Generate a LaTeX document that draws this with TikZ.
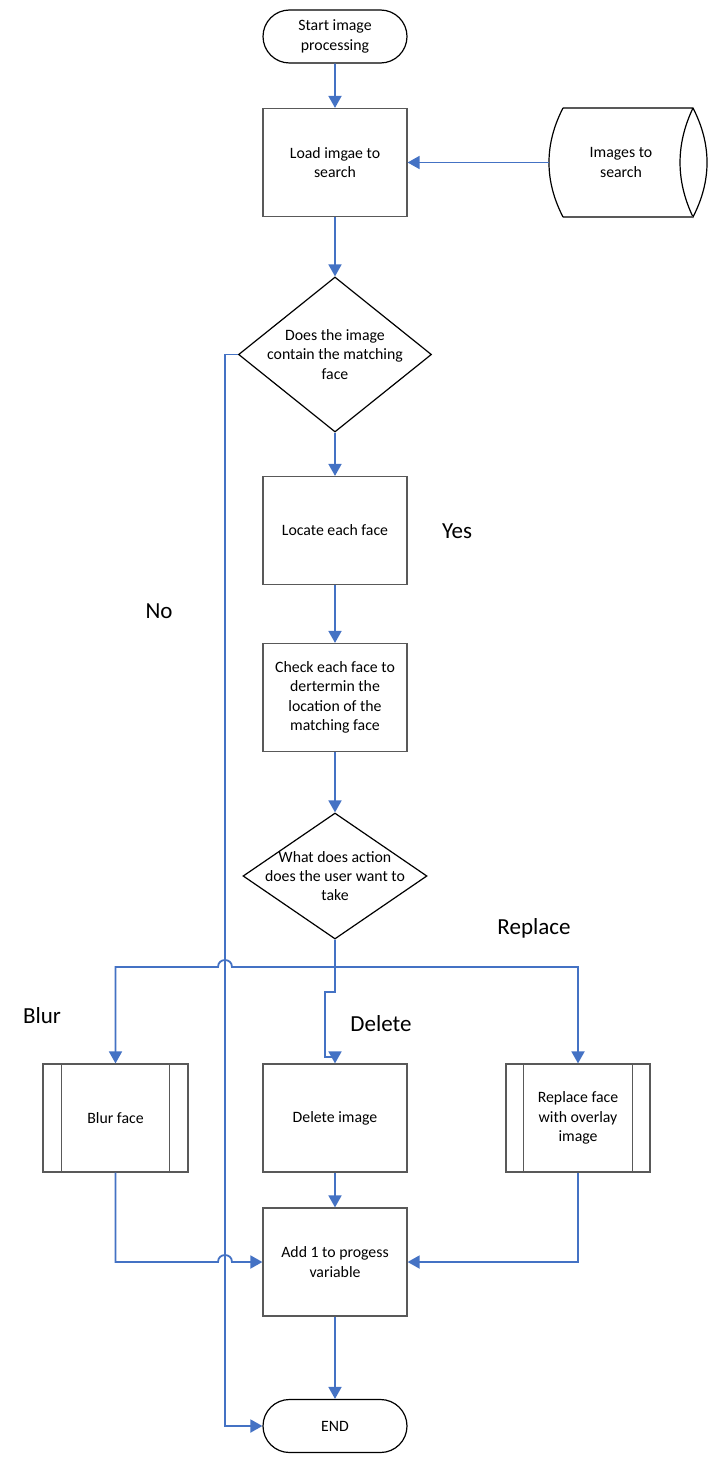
\documentclass[tikz,border=0pt]{standalone}
\usepackage{fontspec}
\setmainfont{Carlito}
\usetikzlibrary{arrows.meta,shapes.geometric,shapes.misc}
\definecolor{conncol}{HTML}{4472C4}
\definecolor{bordcol}{HTML}{595959}
\begin{document}
\begin{tikzpicture}[x=1pt,y=-1pt,
  txt/.style={font=\fontsize{15.8}{19.3}\selectfont, align=center, inner sep=0pt},
  biglabel/.style={font=\fontsize{23}{27}\selectfont, inner sep=0pt},
  proc/.style={txt, draw=bordcol, line width=1.2pt, minimum width=144pt, minimum height=108pt},
  term/.style={txt, draw=black, line width=1.2pt, rounded rectangle, minimum width=144pt, minimum height=53pt},
  dec/.style={draw=black, line width=1.2pt, diamond, inner sep=0pt},
  arr/.style={draw=conncol, line width=1.8pt, -{Triangle[length=12pt,width=13pt]}},
  ln/.style={draw=conncol, line width=1.8pt},
  sub/.style={draw=bordcol, line width=1.2pt}]
\useasboundingbox (0,0) rectangle (717,1466);

% nodes
\node[term] (start) at (335,36.5) {Start image\\processing};
\node[proc] (load) at (335,162.5) {Load imgae to\\search};
\node[dec, minimum width=193pt, minimum height=155pt] (d1) at (335,354.5) {};
\node[txt] (d1t) at (335,354.5) {Does the image\\contain the matching\\face};
\node[proc] (locate) at (335,530.5) {Locate each face};
\node[proc] (check) at (335,697.5) {Check each face to\\dertermin the\\location of the\\matching face};
\node[dec, minimum width=184pt, minimum height=126pt] (d2) at (335,876) {};
\node[txt] (d2t) at (335,876) {What does action\\does the user want to\\take};
\node[proc, minimum width=145pt] (blur) at (115.5,1118) {Blur face};
\node[proc] (del) at (335,1118) {Delete image};
\node[proc] (rep) at (578,1118) {Replace face\\with overlay\\image};
\node[proc] (add) at (335,1262) {Add 1 to progess\\variable};
\node[term] (endn) at (335,1426) {END};

% subprocess inner lines
\draw[sub] ([xshift=19pt]blur.north west) -- ([xshift=19pt]blur.south west);
\draw[sub] ([xshift=-19pt]blur.north east) -- ([xshift=-19pt]blur.south east);
\draw[sub] ([xshift=18pt]rep.north west) -- ([xshift=18pt]rep.south west);
\draw[sub] ([xshift=-18pt]rep.north east) -- ([xshift=-18pt]rep.south east);

% data storage
\draw[line width=1.2pt, draw=black]
  (563,108) -- (693,108)
  .. controls (711.7,144.3) and (711.7,180.7) .. (693,217)
  .. controls (675.7,180.7) and (675.7,144.3) .. (693,108);
\draw[line width=1.2pt, draw=bordcol] (693,217) -- (563,217);
\draw[line width=1.2pt, draw=black]
  (563,217) .. controls (544.3,180.7) and (544.3,144.3) .. (563,108);
\coordinate (storeL) at (549,162.5);
\node[txt] (store) at (621,162.5) {Images to\\search};

% labels
\node[biglabel] (yes) at (457,531) {Yes};
\node[biglabel] (no) at (159,611) {No};
\node[biglabel] (replbl) at (534,928) {Replace};
\node[biglabel] (blurlbl) at (42,1016) {Blur};
\node[biglabel] (dellbl) at (381,1024) {Delete};

% connectors
\draw[arr] (start) -- (load);
\draw[arr] (storeL) -- (load.east);
\draw[arr] (load) -- (d1.north);
\draw[arr] (d1.south) -- (locate);
\draw[arr] (locate) -- (check);
\draw[arr] (check) -- (d2.north);

\coordinate (noc) at (225,354.5);
\draw[arr] (d1.west) -- (noc) |- (endn.west);

\coordinate (split) at (335,967);
\draw[arr] (d2.south) -- (split) -- (232,967)
  .. controls (232,957.7) and (218,957.7) .. (218,967) -| (blur.north);
\draw[arr] (split) -| (rep.north);
\coordinate (dj1) at (335,992);
\coordinate (dj2) at (325,992);
\coordinate (dj3) at (325,1057);
\coordinate (dj4) at (335,1057);
\draw[arr] (split) -- (dj1) -- (dj2) -- (dj3) -- (dj4) -- (del.north);

\draw[arr] (blur.south) |- (218,1262)
  .. controls (218,1252.7) and (232,1252.7) .. (232,1262) -- (add.west);
\draw[arr] (del) -- (add);
\draw[arr] (rep.south) |- (add.east);
\draw[arr] (add) -- (endn);
\end{tikzpicture}
\end{document}
